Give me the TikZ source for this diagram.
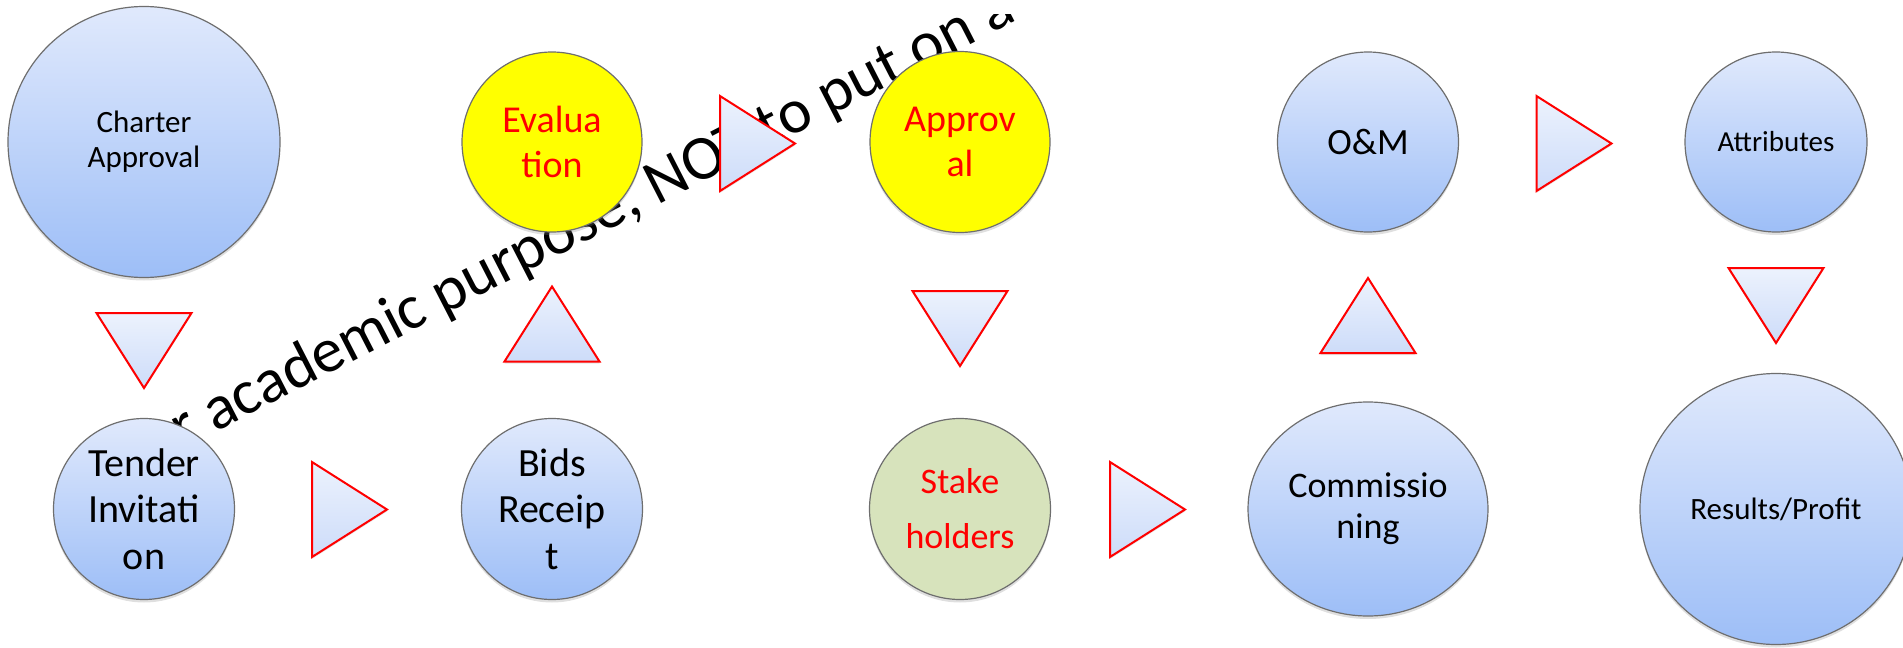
\documentclass[tikz,border=0pt]{standalone}
\usepackage{fontspec}
\setmainfont{Carlito}
\usetikzlibrary{shapes.geometric,shadows}

\definecolor{bubtop}{RGB}{224,233,252}
\definecolor{bubbot}{RGB}{157,190,247}
\definecolor{tritop}{RGB}{236,242,253}
\definecolor{tribot}{RGB}{205,220,249}
\definecolor{stakegreen}{RGB}{215,227,188}
\definecolor{rimgray}{RGB}{110,110,110}
\definecolor{goldfill}{RGB}{255,255,0}
\definecolor{redtext}{RGB}{255,0,0}

\tikzset{
  arrow tri/.style={draw=redtext, line width=1pt, line join=miter, top color=tritop, bottom color=tribot,
                    drop shadow={shadow xshift=0pt, shadow yshift=-1pt, opacity=0.2}},
  tri right/.pic={\path[arrow tri] (-37.5,-47.5) -- (37.5,0) -- (-37.5,47.5) -- cycle;},
  tri down/.pic={\path[arrow tri] (-47.5,-37.5) -- (47.5,-37.5) -- (0,37.5) -- cycle;},
  tri up/.pic={\path[arrow tri] (0,-37.5) -- (47.5,37.5) -- (-47.5,37.5) -- cycle;}
}

\begin{document}
\begin{tikzpicture}[x=0.5pt, y=-0.5pt, node distance=204pt,
                    bubble/.style={ellipse, draw=rimgray, line width=0.6pt, inner sep=-6pt, align=center,
                                   drop shadow={shadow xshift=0pt, shadow yshift=-1.5pt, opacity=0.25}},
                    main node/.style={bubble, top color=bubtop, bottom color=bubbot},
                    gold node/.style={bubble, fill=goldfill, text=redtext},
                    green node/.style={bubble, fill=stakegreen, text=redtext}]

  \useasboundingbox (0,0) rectangle (1903,648);
  \clip (0,0) rectangle (1903,648);

  % watermark, its top is cut off
  \begin{scope}
    \clip (0,14) rectangle (1903,648);
    \node[rotate=27.2, anchor=base west, inner sep=0pt, font=\fontsize{31.5}{36}\selectfont] (mark) at (182.5,449) {r academic purpose, NOT to put on a};
  \end{scope}

  \node[main node, minimum width=136pt, minimum height=135.5pt, font=\fontsize{15.5}{17.5}\selectfont] (1) at (144,142) {Charter\\Approval};
    \node[main node, minimum width=90.5pt, minimum height=90.5pt, font=\fontsize{20}{23.3}\selectfont] (2) [node distance=183.5pt, below of=1] {Tender\\Invitati\\on};
      \node[main node, minimum width=90.5pt, minimum height=90.5pt, font=\fontsize{20}{23.3}\selectfont] (3) [right of=2] {Bids\\Receip\\t};
        \node[gold node, minimum width=90pt, minimum height=90pt, font=\fontsize{19}{22.5}\selectfont] (4) [node distance=183.5pt, above of=3] {Evalua\\tion};
          \node[gold node, minimum width=90pt, minimum height=90.5pt, font=\fontsize{19}{22.5}\selectfont] (5) [right of=4] {Approv\\al};
            \node[green node, minimum width=90.5pt, minimum height=90.5pt, font=\fontsize{18}{27.5}\selectfont] (6) [node distance=183.5pt, below of=5] {Stake\\holders};
              \node[main node, minimum width=120pt, minimum height=107pt, font=\fontsize{18}{20.5}\selectfont] (7) [right of=6] {Commissio\\ning};
                \node[main node, minimum width=90.5pt, minimum height=90pt, font=\fontsize{18.5}{22}\selectfont] (8) [node distance=183.5pt, above of=7] {O\&M};
                  \node[main node, minimum width=91pt, minimum height=90pt, font=\fontsize{14.5}{17}\selectfont] (9) [right of=8] {Attributes};
                    \node[main node, minimum width=136pt, minimum height=135.5pt, font=\fontsize{15.5}{17.5}\selectfont] (10) [node distance=183.5pt, below of=9] {Results/Profit};

  % arrow triangles
  \pic at (144,350.5) {tri down};
  \pic at (349.5,509.5) {tri right};
  \pic at (552,324) {tri up};
  \pic at (757.5,143.5) {tri right};
  \pic at (960,328.5) {tri down};
  \pic at (1147.5,509.5) {tri right};
  \pic at (1368,315.5) {tri up};
  \pic at (1574,143.5) {tri right};
  \pic at (1776,305.5) {tri down};

\end{tikzpicture}
\end{document}
